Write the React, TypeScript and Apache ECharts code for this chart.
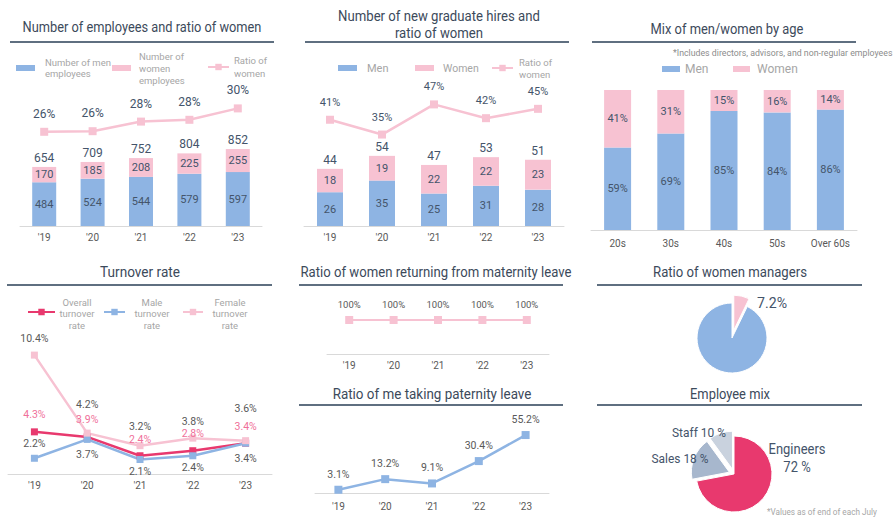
import React, { useEffect, useRef } from "react";
import * as echarts from "echarts";

// ---------- data ----------
const years = ["'19", "'20", "'21", "'22", "'23"];

const empMen = [484, 524, 544, 579, 597];
const empWomen = [170, 185, 208, 225, 255];
const empRatio = [26.0, 26.1, 27.7, 28.0, 29.9];

const gradMen = [26, 35, 25, 31, 28];
const gradWomen = [18, 19, 22, 22, 23];
const gradRatio = [40.9, 35.2, 46.8, 41.5, 45.1];

const ageGroups = ["20s", "30s", "40s", "50s", "Over 60s"];
const ageMen = [59, 69, 85, 84, 86];
const ageWomen = [41, 31, 15, 16, 14];

const turnoverOverall = [4.3, 3.9, 2.4, 2.8, 3.4];
const turnoverMale = [2.2, 3.7, 2.1, 2.4, 3.4];
const turnoverFemale = [10.4, 4.2, 3.2, 3.8, 3.6];

const maternityReturn = [100, 100, 100, 100, 100];
const paternityLeave = [3.1, 13.2, 9.1, 30.4, 55.2];

const managerNames = ["Women", "Men"];
const managerShare = [7.2, 92.8];

const mixNames = ["Engineers", "Sales", "Staff"];
const mixShare = [72, 18, 10];

// ---------- style ----------
const FONT = "Roboto, 'DejaVu Sans Condensed', sans-serif";
const BLUE = "#8EB4E3";
const PINK = "#F7C2D2";
const RED = "#E8396E";
const OVERALL_LBL = "#F0709A";
const TXT = "#44546A";
const AX = "#595959";
const LEG = "#A6A6A6";
const TITLE = "#3C4A5B";
const RULE = "#5F6F80";
const mixColors = [RED, "#A7B7CD", "#C9D2DE"];
const managerColors = [PINK, BLUE];

// per-point label nudges for the turnover chart
const femaleLabelShift = [0, -12, -2, 0, -15];
const overallLabelShift = [0, 0, 1, 0, 0];
const maleLabelPos = ["top", "bottom", "bottom", "bottom", "bottom"];
const maleLabelShift = [0, 0, -3, -3, 0];

let measureCtx: CanvasRenderingContext2D | null = null;
function measure(text: string, size: number) {
  if (!measureCtx) measureCtx = document.createElement("canvas").getContext("2d");
  if (!measureCtx) return 0;
  measureCtx.font = `${size}px ${FONT}`;
  return Math.max(...text.split("\n").map((s) => measureCtx!.measureText(s).width));
}

// free text fitted to a target width by horizontal scaling
function txt(text: string, x: number, y: number, size: number, color: string, targetW?: number, align = "center", lh?: number) {
  const w = measure(text, size);
  const sx = targetW && w > 0 ? targetW / w : 1;
  return {
    type: "text",
    x,
    y,
    z: 100,
    scaleX: sx,
    silent: true,
    style: {
      text,
      fill: color,
      fontSize: size,
      fontFamily: FONT,
      lineHeight: lh || Math.round(size * 1.15),
      textAlign: align,
      textVerticalAlign: "middle",
    },
  };
}
function rule(x1: number, x2: number, y: number) {
  return {
    type: "line",
    silent: true,
    shape: { x1, y1: y, x2, y2: y },
    style: { stroke: RULE, lineWidth: 2 },
  };
}

function legendItem(o: any) {
  const n = o.lines;
  const L = o.lh;
  const d = (n - 1) * L - 2 * (o.iconY - o.firstY);
  const padTop = d > 0 ? d : 0;
  const padBot = d < 0 ? -d : 0;
  const boxH = Math.max(n * L + padTop + padBot, o.h);
  const padLeft = Math.max(0, o.textX - (o.iconLeft + o.w) - 5);
  const ts: any = {
    fontSize: o.fs,
    lineHeight: L,
    color: LEG,
    fontFamily: FONT,
    padding: [padTop, 0, padBot, padLeft],
  };
  if (o.center) {
    ts.rich = {
      c: { width: o.center, align: "center", fontSize: o.fs, lineHeight: L, color: LEG, fontFamily: FONT },
    };
  }
  return {
    left: o.iconLeft,
    top: o.iconY - boxH / 2,
    padding: 0,
    itemGap: 0,
    itemWidth: o.w,
    itemHeight: o.h,
    icon: o.icon,
    selectedMode: false,
    data: [o.name],
    formatter: () =>
      o.center
        ? o.text
            .split("\n")
            .map((s: string) => `{c|${s}}`)
            .join("\n")
        : o.text,
    textStyle: ts,
  };
}

function catAxis(gridIndex: number, data: string[], margin: number) {
  return {
    type: "category",
    gridIndex,
    data,
    axisTick: { show: false },
    axisLine: { lineStyle: { color: "#D9D9D9", width: 1 } },
    axisLabel: { color: AX, fontSize: 10, margin, fontFamily: FONT },
  };
}
function valAxis(gridIndex: number, min: number, max: number) {
  return { type: "value", gridIndex, min, max, show: false, splitLine: { show: false } };
}

const lblBase = { color: TXT, fontFamily: FONT };

function buildOption() {
  const empTotal = empMen.map((m, i) => m + empWomen[i]);
  const gradTotal = gradMen.map((m, i) => m + gradWomen[i]);

  return {
    animation: false,
    textStyle: { fontFamily: FONT },
    grid: [
      { left: 20, top: 100, width: 242, height: 126 },
      { left: 304, top: 100, width: 260, height: 126 },
      { left: 591, top: 90, width: 266, height: 140 },
      { left: 8, top: 340, width: 264, height: 134 },
      { left: 327, top: 320, width: 222, height: 34 },
      { left: 315, top: 430, width: 234, height: 63 },
    ],
    xAxis: [
      catAxis(0, years, 6),
      catAxis(1, years, 6),
      catAxis(2, ageGroups, 8),
      catAxis(3, years, 6),
      catAxis(4, years, 6),
      catAxis(5, years, 8),
    ],
    yAxis: [
      valAxis(0, 0, 1395),
      valAxis(0, 10.3, 31.3),
      valAxis(1, 0, 97),
      valAxis(1, 0, 48.5),
      valAxis(2, 0, 100),
      valAxis(3, 0.95, 11.6),
      valAxis(4, 0, 100),
      valAxis(5, 0, 60),
    ],
    legend: [
      legendItem({ name: "Number of men employees", text: "Number of men\nemployees", iconLeft: 16, w: 19, h: 6, iconY: 68, firstY: 69, lines: 2, lh: 11, textX: 45, fs: 9.5, icon: "rect" }),
      legendItem({ name: "Number of women employees", text: "Number of\nwomen\nemployees", iconLeft: 112, w: 19, h: 6, iconY: 68, firstY: 62, lines: 3, lh: 12, textX: 139, fs: 9.5, icon: "rect" }),
      legendItem({ name: "Ratio of women", text: "Ratio of\nwomen", iconLeft: 207, w: 21, h: 8, iconY: 67, firstY: 64, lines: 2, lh: 13, textX: 232, fs: 9.5 }),

      legendItem({ name: "Men", text: "Men", iconLeft: 338, w: 19, h: 6, iconY: 68, firstY: 68, lines: 1, lh: 13, textX: 367, fs: 11, icon: "rect" }),
      legendItem({ name: "Women", text: "Women", iconLeft: 415, w: 19, h: 6, iconY: 68, firstY: 67, lines: 1, lh: 13, textX: 443, fs: 10.5, icon: "rect" }),
      legendItem({ name: "Ratio of women (hires)", text: "Ratio of\nwomen", iconLeft: 491, w: 21, h: 8, iconY: 68, firstY: 64, lines: 2, lh: 12, textX: 518, fs: 9.5 }),

      legendItem({ name: "Men (age)", text: "Men", iconLeft: 662, w: 18, h: 6, iconY: 69, firstY: 69, lines: 1, lh: 14, textX: 683, fs: 12, icon: "rect" }),
      legendItem({ name: "Women (age)", text: "Women", iconLeft: 733, w: 17, h: 6, iconY: 69, firstY: 69, lines: 1, lh: 14, textX: 757, fs: 12, icon: "rect" }),

      legendItem({ name: "Overall turnover rate", text: "Overall\nturnover\nrate", iconLeft: 27, w: 27, h: 8, iconY: 312, firstY: 302, lines: 3, lh: 11.5, textX: 58, fs: 9.5, center: 34 }),
      legendItem({ name: "Male turnover rate", text: "Male\nturnover\nrate", iconLeft: 103, w: 21, h: 8, iconY: 312, firstY: 302, lines: 3, lh: 11.5, textX: 134, fs: 9.5, center: 34 }),
      legendItem({ name: "Female turnover rate", text: "Female\nturnover\nrate", iconLeft: 182, w: 20, h: 8, iconY: 312, firstY: 302, lines: 3, lh: 11.5, textX: 212, fs: 9.5, center: 34 }),
    ],
    graphic: [
      txt("Number of employees and ratio of women", 142, 27, 15, TITLE, 239),
      txt("Number of new graduate hires and\nratio of women", 439, 24.5, 15, TITLE, 202, "center", 17),
      txt("Mix of men/women by age", 727, 29, 15, TITLE, 153),
      txt("Turnover rate", 140, 272, 15, TITLE, 80),
      txt("Ratio of women returning from maternity leave", 436, 272, 15, TITLE, 271),
      txt("Ratio of me taking paternity leave", 432, 394, 15, TITLE, 199),
      txt("Ratio of women managers", 730, 272, 15, TITLE, 154),
      txt("Employee mix", 730, 394, 15, TITLE, 80),
      rule(10, 274, 42),
      rule(305, 569, 42),
      rule(592, 856, 42),
      rule(7, 272, 285),
      rule(299, 563, 285),
      rule(299, 563, 405),
      rule(597, 862, 285),
      rule(597, 862, 405),
      txt("*Includes directors, advisors, and non-regular employees", 673, 53, 9.5, "#8C8C8C", 220, "left"),
      txt("*Values as of end of each July", 767, 512, 9.5, LEG, 110, "left"),
      // pie labels (text built from the data)
      txt(`${managerShare[0]}%`, 772, 303, 15, TXT, 30),
      txt(`${mixNames[0]}\n${mixShare[0]} %`, 797, 458, 15, TXT, 57, "center", 18),
      txt(`${mixNames[1]} ${mixShare[1]} %`, 680, 458, 13, TXT, 57),
      txt(`${mixNames[2]} ${mixShare[2]} %`, 699, 432, 13, TXT, 54),
    ],
    series: [
      // ---- P1 employees
      {
        name: "Number of men employees", type: "bar", xAxisIndex: 0, yAxisIndex: 0, stack: "emp", barWidth: 24, barGap: "-100%",
        data: empMen, itemStyle: { color: BLUE },
        label: { show: true, position: "inside", fontSize: 11, ...lblBase },
      },
      {
        name: "Number of women employees", type: "bar", xAxisIndex: 0, yAxisIndex: 0, stack: "emp", barWidth: 24, barGap: "-100%",
        data: empWomen, itemStyle: { color: PINK },
        label: { show: true, position: "inside", fontSize: 11, ...lblBase },
      },
      {
        name: "emp total", type: "bar", xAxisIndex: 0, yAxisIndex: 0, barWidth: 24, barGap: "-100%", silent: true,
        data: empTotal, itemStyle: { color: "rgba(0,0,0,0)" },
        label: { show: true, position: "top", distance: 3, fontSize: 12, ...lblBase },
      },
      {
        name: "Ratio of women", type: "line", xAxisIndex: 0, yAxisIndex: 1, data: empRatio,
        symbol: "rect", symbolSize: 8, lineStyle: { color: PINK, width: 2.5 }, itemStyle: { color: PINK },
        label: { show: true, position: "top", distance: 8, fontSize: 12, ...lblBase, formatter: (p: any) => Math.round(p.value) + "%" },
      },
      // ---- P2 new grads
      {
        name: "Men", type: "bar", xAxisIndex: 1, yAxisIndex: 2, stack: "grad", barWidth: 26, barGap: "-100%",
        data: gradMen, itemStyle: { color: BLUE },
        label: { show: true, position: "inside", fontSize: 11, ...lblBase },
      },
      {
        name: "Women", type: "bar", xAxisIndex: 1, yAxisIndex: 2, stack: "grad", barWidth: 26, barGap: "-100%",
        data: gradWomen, itemStyle: { color: PINK },
        label: { show: true, position: "inside", fontSize: 11, ...lblBase },
      },
      {
        name: "grad total", type: "bar", xAxisIndex: 1, yAxisIndex: 2, barWidth: 26, barGap: "-100%", silent: true,
        data: gradTotal, itemStyle: { color: "rgba(0,0,0,0)" },
        label: { show: true, position: "top", distance: 3, fontSize: 12, ...lblBase },
      },
      {
        name: "Ratio of women (hires)", type: "line", xAxisIndex: 1, yAxisIndex: 3, data: gradRatio,
        symbol: "rect", symbolSize: 8, lineStyle: { color: PINK, width: 2.5 }, itemStyle: { color: PINK },
        label: { show: true, position: "top", distance: 8, fontSize: 11, ...lblBase, formatter: (p: any) => Math.round(p.value) + "%" },
      },
      // ---- P3 by age
      {
        name: "Men (age)", type: "bar", xAxisIndex: 2, yAxisIndex: 4, stack: "age", barWidth: 27,
        data: ageMen, itemStyle: { color: BLUE },
        label: { show: true, position: "inside", fontSize: 11, ...lblBase, formatter: "{c}%" },
      },
      {
        name: "Women (age)", type: "bar", xAxisIndex: 2, yAxisIndex: 4, stack: "age", barWidth: 27,
        data: ageWomen, itemStyle: { color: PINK },
        label: { show: true, position: "inside", fontSize: 11, ...lblBase, formatter: "{c}%" },
      },
      // ---- P4 turnover
      {
        name: "Overall turnover rate", type: "line", xAxisIndex: 3, yAxisIndex: 5,
        data: turnoverOverall.map((v, i) => ({ value: v, label: { offset: [0, overallLabelShift[i]] } })),
        symbol: "rect", symbolSize: 7, lineStyle: { color: RED, width: 2.5 }, itemStyle: { color: RED },
        label: { show: true, position: "top", distance: 8, fontSize: 10.5, fontFamily: FONT, color: OVERALL_LBL, formatter: "{c}%" },
      },
      {
        name: "Male turnover rate", type: "line", xAxisIndex: 3, yAxisIndex: 5,
        data: turnoverMale.map((v, i) => ({
          value: v,
          label: { position: maleLabelPos[i], offset: [0, maleLabelShift[i]] },
        })),
        symbol: "rect", symbolSize: 7, lineStyle: { color: BLUE, width: 2.5 }, itemStyle: { color: BLUE },
        label: { show: true, distance: 6, fontSize: 10.5, fontFamily: FONT, color: AX, formatter: "{c}%" },
      },
      {
        name: "Female turnover rate", type: "line", xAxisIndex: 3, yAxisIndex: 5,
        data: turnoverFemale.map((v, i) => ({ value: v, label: { offset: [0, femaleLabelShift[i]] } })),
        symbol: "rect", symbolSize: 7, lineStyle: { color: PINK, width: 2.5 }, itemStyle: { color: PINK },
        label: { show: true, position: "top", distance: 8, fontSize: 10.5, fontFamily: FONT, color: AX, formatter: "{c}%" },
      },
      // ---- P5 maternity
      {
        name: "Maternity return", type: "line", xAxisIndex: 4, yAxisIndex: 6, data: maternityReturn,
        symbol: "rect", symbolSize: 8, lineStyle: { color: PINK, width: 2 }, itemStyle: { color: PINK },
        label: { show: true, position: "top", distance: 7, fontSize: 9.5, fontFamily: FONT, color: AX, formatter: "{c}%" },
      },
      // ---- P6 paternity
      {
        name: "Paternity leave", type: "line", xAxisIndex: 5, yAxisIndex: 7, data: paternityLeave,
        symbol: "rect", symbolSize: 8, lineStyle: { color: BLUE, width: 2.5 }, itemStyle: { color: BLUE },
        label: { show: true, position: "top", distance: 6, fontSize: 10.5, fontFamily: FONT, color: AX, formatter: "{c}%" },
      },
      // ---- P7 managers pie
      {
        name: "Managers", type: "pie", center: [732, 338], radius: 35, startAngle: 90, clockwise: true,
        selectedMode: "multiple", selectedOffset: 8,
        itemStyle: { borderColor: "#fff", borderWidth: 1 },
        data: managerNames.map((n, i) => ({
          name: n, value: managerShare[i], selected: i === 0,
          itemStyle: { color: managerColors[i] },
        })),
        label: { show: false },
        labelLine: { show: false },
        emphasis: { disabled: true },
      },
      // ---- P8 employee mix pie
      {
        name: "Employee mix", type: "pie", center: [734, 474], radius: 38, startAngle: 90, clockwise: true,
        selectedMode: "multiple", selectedOffset: 5,
        itemStyle: { borderColor: "#fff", borderWidth: 1 },
        data: mixNames.map((n, i) => ({
          name: n, value: mixShare[i], selected: i > 0,
          itemStyle: { color: mixColors[i] },
        })),
        label: { show: false },
        labelLine: { show: false },
        emphasis: { disabled: true },
      },
    ],
  };
}

export default function App() {
  const ref = useRef<HTMLDivElement>(null);
  useEffect(() => {
    document.body.style.margin = "0";
    if (!ref.current) return;
    const chart = echarts.init(ref.current, undefined, { renderer: "svg" });
    chart.setOption(buildOption() as any);
    return () => chart.dispose();
  }, []);
  return <div ref={ref} style={{ width: 893, height: 517, background: "#fff" }} />;
}
